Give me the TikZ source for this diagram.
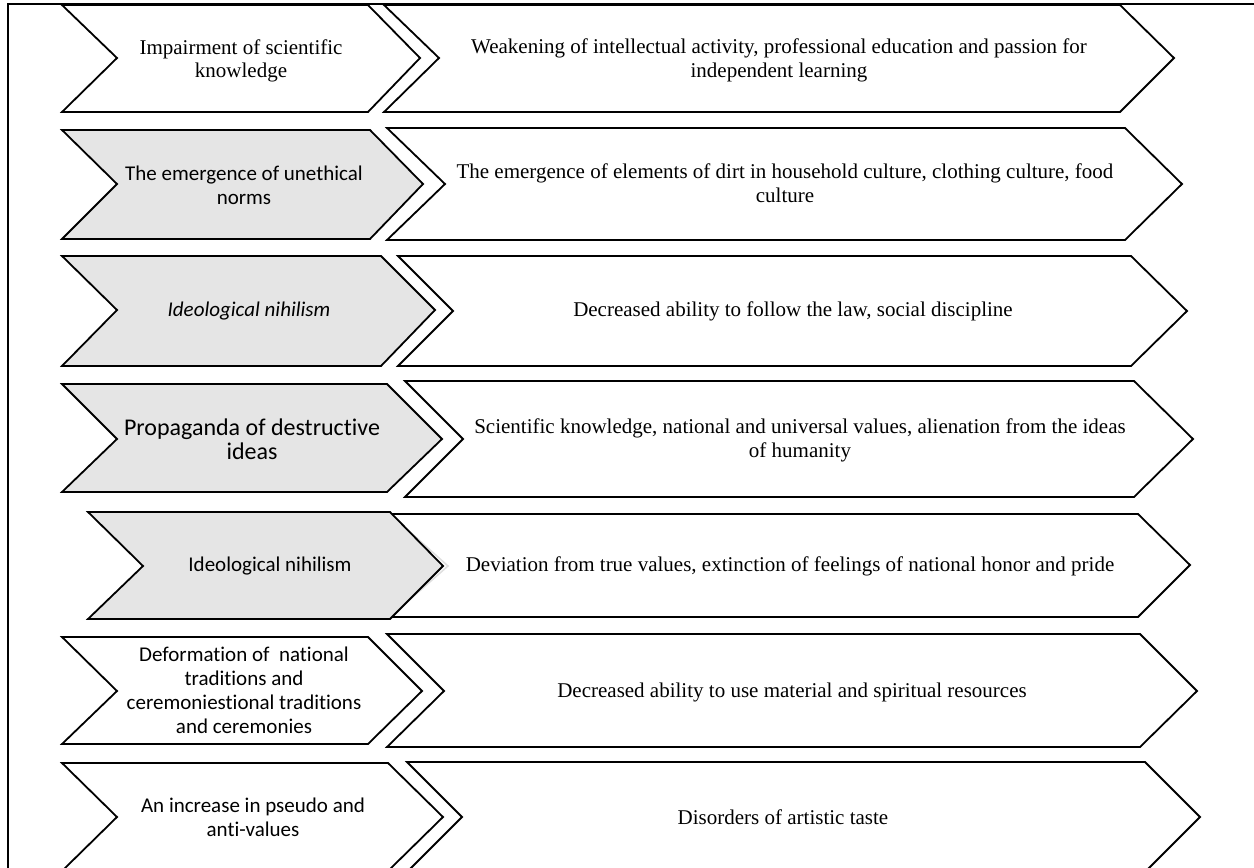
\documentclass[tikz,border=0pt]{standalone}
\usepackage{fontspec}
\setmainfont[Ligatures=NoCommon]{Liberation Serif}
\newfontfamily\carl[Ligatures=NoCommon]{Carlito}
\tikzset{
  chev/.style={draw=black, line width=1.8pt, line join=miter, fill=white},
  chevg/.style={chev, fill=gray!20},
  frameline/.style={draw=black, line width=1.8pt},
  rtext/.style={align=center, inner sep=0pt, font=\fontsize{21}{24}\selectfont},
  ltext/.style={align=center, inner sep=0pt, font=\carl\fontsize{21}{24}\selectfont},
  ltextbig/.style={align=center, inner sep=0pt, font=\carl\fontsize{24}{24}\selectfont},
  ltextserif/.style={align=center, inner sep=0pt, font=\fontsize{21}{23}\selectfont}
}
\begin{document}
\begin{tikzpicture}[x=1pt,y=-1pt]
\useasboundingbox (0,0) rectangle (1254,868);
\clip (0,0) rectangle (1254,868);
\fill[white] (0,0) rectangle (1254,868);
% frame
\draw[frameline] (8,880) -- (8,4) -- (1260,4);

% row 1
\draw[chev] (384,5) -- (1120,5) -- (1174,58) -- (1120,112) -- (384,112) -- (439,58) -- cycle;
\draw[chev] (62,5) -- (368,5) -- (420,58) -- (368,112) -- (62,112) -- (117,58) -- cycle;
\node[ltextserif] (l1) at (241,61) {Impairment of scientific\\knowledge};
\node[rtext] (r1) at (779,60) {Weakening of intellectual activity, professional education and passion for\\independent learning};

% row 2
\draw[chev] (387,128) -- (1125,128) -- (1182,184) -- (1125,240) -- (387,240) -- (445,184) -- cycle;
\draw[chevg] (62,130) -- (370,130) -- (423,184) -- (370,239) -- (62,239) -- (117,184) -- cycle;
\node[ltext] (l2) at (244,185) {The emergence of unethical\\norms};
\node[rtext] (r2) at (785,183) {The emergence of elements of dirt in household culture, clothing culture, food\\culture};

% row 3
\draw[chev] (398,256) -- (1131,256) -- (1187,311) -- (1131,366) -- (398,366) -- (453,311) -- cycle;
\draw[chevg] (62,256) -- (381,256) -- (435,310) -- (381,366) -- (62,366) -- (117,310) -- cycle;
\node[ltext, font=\carl\itshape\fontsize{21}{24}\selectfont] (l3) at (249,311) {Ideological nihilism};
\node[rtext] (r3) at (793,311) {Decreased ability to follow the law, social discipline};

% row 4
\draw[chev] (405,381) -- (1134,381) -- (1193,439) -- (1134,497) -- (405,497) -- (463,439) -- cycle;
\draw[chevg] (62,384) -- (387,384) -- (442,439) -- (387,492) -- (62,492) -- (117,439) -- cycle;
\node[ltextbig] (l4) at (252,439) {Propaganda of destructive\\ideas};
\node[rtext] (r4) at (800,440) {Scientific knowledge, national and universal values, alienation from the ideas\\of humanity};

% row 5
\fill[white] (390,514) -- (1138,514) -- (1190,565) -- (1138,617) -- (390,617) -- (448,566) -- cycle;
\draw[line width=1.8pt, line join=miter] (390,617) -- (1138,617) -- (1190,565) -- (1138,514) -- (390,514);
\draw[line width=1.5pt, draw=gray!25] (390,514) -- (448,566) -- (390,617);
\draw[chevg] (88,512) -- (390,512) -- (443,566) -- (390,619) -- (88,619) -- (143,566) -- cycle;
\node[ltext] (l5) at (270,566) {Ideological nihilism};
\node[rtext] (r5) at (790,566) {Deviation from true values, extinction of feelings of national honor and pride};

% row 6
\draw[chev] (387,634) -- (1140,634) -- (1197,691) -- (1140,747) -- (387,747) -- (444,691) -- cycle;
\draw[chev] (62,637) -- (368,637) -- (422,691) -- (368,744) -- (62,744) -- (117,691) -- cycle;
\node[ltext] (l6) at (244,690) {Deformation of~ national\\traditions and\\ceremoniestional traditions\\and ceremonies};
\node[rtext] (r6) at (792,692) {Decreased ability to use material and spiritual resources};

% row 7
\draw[chev] (407,762) -- (1145,762) -- (1200,817) -- (1145,872) -- (407,872) -- (462,817) -- cycle;
\draw[chev] (62,763) -- (388,763) -- (443,817) -- (388,871) -- (62,871) -- (117,817) -- cycle;
\node[ltext] (l7) at (253,817) {An increase in pseudo and\\anti-values};
\node[rtext] (r7) at (783,817) {Disorders of artistic taste};
\end{tikzpicture}
\end{document}
